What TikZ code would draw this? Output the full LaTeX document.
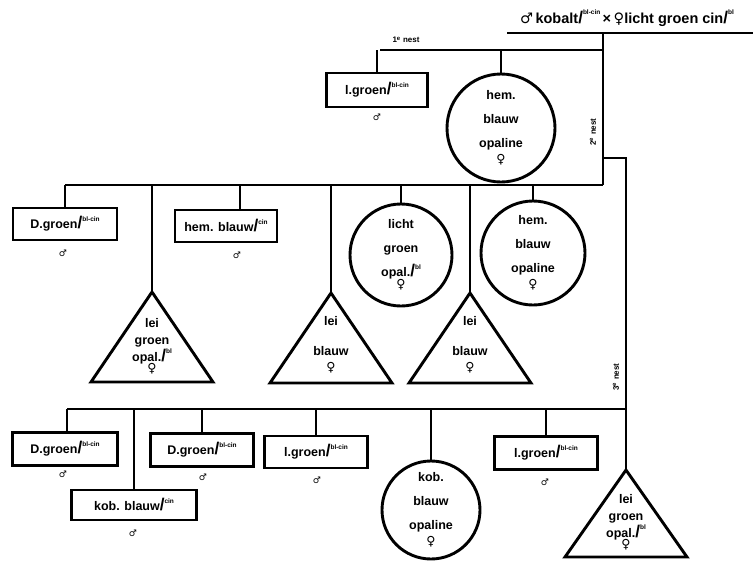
\documentclass[tikz,border=0pt]{standalone}
\usepackage{fontspec}
\setmainfont{Liberation Sans}
\newfontfamily\symf{DejaVu Sans}
\newcommand\mam{{\symf\bfseries ♂}}
\newcommand\fem{{\symf\bfseries ♀}}
\newcommand\gsplit[2]{#1{\fontsize{17}{17}\selectfont/}\raisebox{1.1ex}{\fontsize{6.5}{6.5}\selectfont #2}}
\begin{document}
\begin{tikzpicture}[x=1pt,y=-1pt,line width=2.9pt,line join=miter,
  every node/.style={font=\fontsize{12.5}{14}\selectfont\bfseries},
  box/.style={draw,rectangle,minimum height=32pt,inner sep=0pt},
  disc/.style={draw,circle,inner sep=0pt,align=center,font=\fontsize{12.5}{24}\selectfont\bfseries},
  tri/.style={draw},
  tritxt/.style={align=center,inner sep=0pt,font=\fontsize{12.5}{17}\selectfont\bfseries},
  sex/.style={inner sep=0pt,font=\fontsize{9}{9}\selectfont},
  nest/.style={inner sep=0pt,font=\fontsize{8}{8}\selectfont\bfseries}]
\useasboundingbox (0,0) rectangle (753,563);
% title
\node[inner sep=0pt,font=\fontsize{14.5}{15}\selectfont\bfseries] (title) at (627,18) {\mam\,kobalt\gsplit{}{bl-cin}\,×\,\fem licht groen cin\gsplit{}{bl}};
\coordinate (ulL) at (507,33); \coordinate (ulR) at (753,33);
\draw (ulL) -- (ulR);
\coordinate (top) at (603,33);
\coordinate (n1R) at (603,50); \coordinate (n1L) at (380,50);
\coordinate (n2R) at (603,185); \coordinate (n2L) at (65,185);
\coordinate (n3s) at (603,158); \coordinate (n3c) at (626,158);
\coordinate (n3R) at (626,409); \coordinate (n3L) at (67,409);
\draw (top) -- (n2R);
\draw (n1L) -- (n1R);
\draw (n2L) -- (n2R);
\draw (n3s) -- (n3c) -- (n3R);
\draw (n3L) -- (n3R);
\node[nest] (l1) at (406,40) {1\textsuperscript{e} nest};
\node[nest,rotate=90] (l2) at (593,132) {2\textsuperscript{e} nest};
\node[nest,rotate=90] (l3) at (616,377) {3\textsuperscript{e} nest};
% 1st nest
\node[box,minimum width=101pt,minimum height=34pt] (b1) at (377,90) {\gsplit{l.groen}{bl-cin}};
\node[sex] (s1) at (377,117) {\mam};
\node[disc,minimum size=108pt] (c1) at (501,128) {hem.\\blauw\\opaline\\[-8pt]\fem};
\draw (b1.north) -- (b1.north |- n1L);
\draw (c1.north) -- (c1.north |- n1L);
% 2nd nest
\node[box,minimum width=104pt] (b2) at (65,224) {\gsplit{D.groen}{bl-cin}};
\node[sex] (s2) at (63,253) {\mam};
\draw (b2.north) -- (b2.north |- n2L);
\coordinate (t1) at (152,292);
\draw[tri] (t1) -- ++(61,90) -- ++(-122,0) -- cycle;
\draw (t1) -- (t1 |- n2L);
\node[tritxt] (t1x) at (152,346) {lei\\groen\\\gsplit{opal.}{bl}\\[-6pt]\fem};
\node[box,minimum width=102pt] (b3) at (226,226) {\gsplit{hem. blauw}{cin}};
\node[sex] (s3) at (237,255) {\mam};
\coordinate (b3c) at (240,210);
\draw (b3c) -- (b3c |- n2L);
\coordinate (t2) at (331,293);
\draw[tri] (t2) -- ++(61,90) -- ++(-122,0) -- cycle;
\draw (t2) -- (t2 |- n2L);
\node[tritxt,font=\fontsize{12.5}{30}\selectfont\bfseries] (t2x) at (331,345) {lei\\blauw\\[-14pt]\fem};
\node[disc,minimum size=102pt] (c2) at (401,255) {licht\\groen\\\gsplit{opal.}{bl}\\[-12pt]\fem};
\draw (c2.north) -- (c2.north |- n2L);
\coordinate (t3) at (470,293);
\draw[tri] (t3) -- ++(61,90) -- ++(-122,0) -- cycle;
\draw (t3) -- (t3 |- n2L);
\node[tritxt,font=\fontsize{12.5}{30}\selectfont\bfseries] (t3x) at (470,345) {lei\\blauw\\[-14pt]\fem};
\node[disc,minimum size=104pt] (c3) at (533,253) {hem.\\blauw\\opaline\\[-8pt]\fem};
\draw (c3.north) -- (c3.north |- n2L);
% 3rd nest
\node[box,minimum width=105pt,minimum height=33pt] (b4) at (65,449) {\gsplit{D.groen}{bl-cin}};
\node[sex] (s4) at (63,474) {\mam};
\coordinate (b4c) at (67,432);
\draw (b4c) -- (b4c |- n3L);
\node[box,minimum width=125pt,minimum height=30pt] (b5) at (134,505) {\gsplit{kob. blauw}{cin}};
\node[sex] (s5) at (133,533) {\mam};
\draw (b5.north) -- (b5.north |- n3L);
\node[box,minimum width=103pt,minimum height=33pt] (b6) at (202,450) {\gsplit{D.groen}{bl-cin}};
\node[sex] (s6) at (203,477) {\mam};
\draw (b6.north) -- (b6.north |- n3L);
\node[box,minimum width=103pt] (b7) at (316,452) {\gsplit{l.groen}{bl-cin}};
\node[sex] (s7) at (317,480) {\mam};
\draw (b7.north) -- (b7.north |- n3L);
\node[disc,minimum size=98pt] (c4) at (431,510) {kob.\\blauw\\opaline\\[-8pt]\fem};
\draw (c4.north) -- (c4.north |- n3L);
\node[box,minimum width=103pt,minimum height=33pt] (b8) at (546,453) {\gsplit{l.groen}{bl-cin}};
\node[sex] (s8) at (545,482) {\mam};
\draw (b8.north) -- (b8.north |- n3L);
\coordinate (t4) at (626,470);
\draw[tri] (t4) -- ++(61,87) -- ++(-122,0) -- cycle;
\draw (t4) -- (n3R);
\node[tritxt] (t4x) at (626,522) {lei\\groen\\\gsplit{opal.}{bl}\\[-6pt]\fem};
\end{tikzpicture}
\end{document}
